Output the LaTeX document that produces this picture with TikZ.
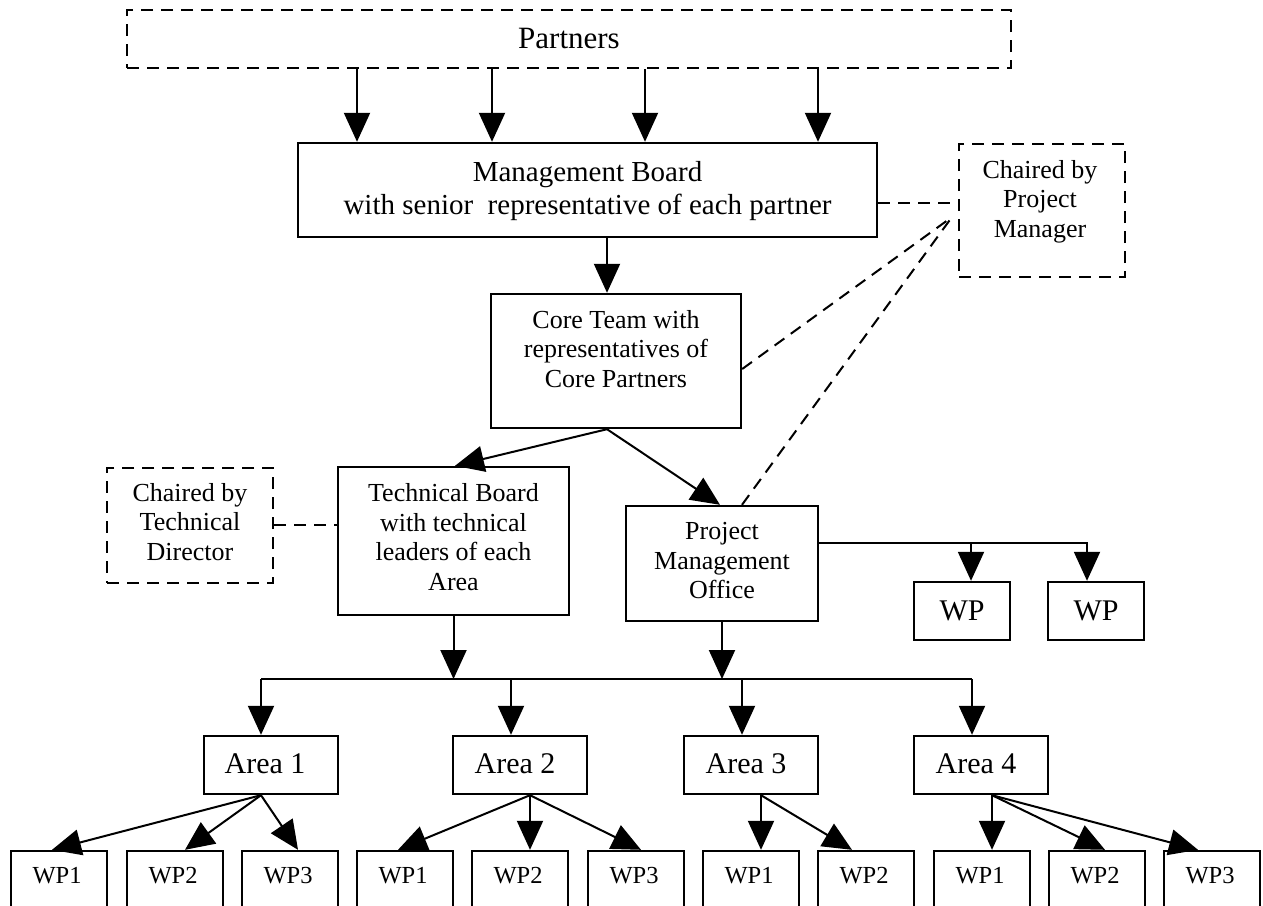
\documentclass[tikz,border=0pt]{standalone}
\usepackage{fontspec}
\setmainfont{Liberation Serif}
\usetikzlibrary{arrows.meta}
\begin{document}
\begin{tikzpicture}[x=1pt,y=-1pt,
  box/.style={draw, rectangle, line width=2.4pt, inner sep=0pt},
  dbox/.style={box, line width=2.8pt, dash pattern=on 12pt off 8pt},
  txt/.style={align=center, inner sep=0pt},
  big/.style={font=\fontsize{31}{36}\selectfont},
  mid/.style={font=\fontsize{29}{33}\selectfont},
  std/.style={font=\fontsize{26}{29.5}\selectfont},
  lab/.style={font=\fontsize{30}{34}\selectfont},
  small/.style={font=\fontsize{24.5}{28}\selectfont},
  conn/.style={line width=2pt},
  arr/.style={conn, -{Triangle[length=29pt,width=26pt]}},
  link/.style={line width=2pt, dash pattern=on 12pt off 8pt}
]
\useasboundingbox (0,0) rectangle (1263,905);
\clip (0,0) rectangle (1263,905);

% ---- boxes ----
\node[dbox, minimum width=884pt, minimum height=58pt] (partners) at (569,39) {};
\node[box, minimum width=579pt, minimum height=94pt] (mb) at (587.5,190) {};
\node[dbox, minimum width=166pt, minimum height=133pt] (pmc) at (1042,210.5) {};
\node[box, minimum width=250pt, minimum height=134pt] (core) at (616,361) {};
\node[box, minimum width=231pt, minimum height=148pt] (tb) at (453.5,541) {};
\node[dbox, minimum width=166pt, minimum height=115pt] (td) at (190,525.5) {};
\node[box, minimum width=192pt, minimum height=115pt] (pmo) at (722,563.5) {};
\node[box, minimum width=96pt, minimum height=58pt] (wpa) at (962,611) {};
\node[box, minimum width=96pt, minimum height=58pt] (wpb) at (1096,611) {};

\foreach \n/\cx in {a1/271, a2/520, a3/751, a4/981}
  \node[box, minimum width=134pt, minimum height=58pt] (\n) at (\cx,765) {};

\foreach \n/\cx in {w1/59, w2/175, w3/290, w4/405, w5/520, w6/636,
                    w7/751, w8/866, w9/982, w10/1097, w11/1212}
  \node[box, minimum width=96pt, minimum height=80pt] (\n) at (\cx,891) {};

% ---- texts ----
\node[txt, big] (partners-t) at (569,39) {Partners};
\node[txt, mid] (mb-t) at (587.5,191) {Management Board\\with senior\ \ representative of each partner};
\node[txt, std] (pmc-t) at (1040,201.5) {Chaired by\\Project\\Manager};
\node[txt, std] (core-t) at (616,349) {Core Team with\\representatives of\\Core Partners};
\node[txt, std] (tb-t) at (453.5,537) {Technical Board\\with technical\\leaders of each\\Area};
\node[txt, std] (td-t) at (190,522) {Chaired by\\Technical\\Director};
\node[txt, std] (pmo-t) at (722,561) {Project\\Management\\Office};
\node[txt, lab] (wpa-t) at (962,611) {WP};
\node[txt, lab] (wpb-t) at (1096,611) {WP};
\foreach \n/\cx/\k in {a1/265/1, a2/515/2, a3/746/3, a4/976/4}
  \node[txt, lab] (\n-t) at (\cx,764) {Area \k};
\foreach \n/\cx/\k in {w1/57/1, w2/173/2, w3/288/3, w4/403/1, w5/518/2, w6/634/3,
                       w7/749/1, w8/864/2, w9/980/1, w10/1095/2, w11/1210/3}
  \node[txt, small] (\n-t) at (\cx,876) {WP\k};

% ---- partners to management board ----
\foreach \x in {357, 492, 645, 818}
  \draw[arr] (\x,0 |- partners.south) -- (\x,0 |- mb.north);

% ---- main chain ----
\draw[arr] (607,0 |- mb.south) -- (607,0 |- core.north);
\draw[arr] (607,0 |- core.south) -- (455,0 |- tb.north);
\draw[arr] (607,0 |- core.south) -- (720,0 |- pmo.north);

% ---- chair links ----
\coordinate (pmA) at (952,203);
\coordinate (pmB) at (952,217);
\draw[link] (mb.east |- pmA) -- (pmA);
\draw[link] (core.east |- 0,369) -- (pmB);
\draw[link] (742,0 |- pmo.north) -- (pmB);
\draw[link] (td.east |- 0,525) -- (tb.west |- 0,525);

% ---- project management office work packages ----
\coordinate (j1) at (971,543);
\draw[arr] (pmo.east |- j1) -| (1087,0 |- wpb.north);
\draw[arr] (j1) -- (j1 |- wpa.north);

% ---- bus to the areas ----
\coordinate (busL) at (261,679);
\coordinate (busR) at (972,679);
\draw[arr] (tb.south) -- (tb.south |- busL);
\draw[arr] (pmo.south) -- (pmo.south |- busL);
\draw[conn] (busL) -- (busR);
\draw[arr] (busL) -- (busL |- a1.north);
\draw[arr] (511,0 |- busL) -- (511,0 |- a2.north);
\draw[arr] (742,0 |- busL) -- (742,0 |- a3.north);
\draw[arr] (busR) -- (busR |- a4.north);

% ---- areas to work packages ----
\foreach \t/\x in {w1/52, w2/185, w3/298}
  \draw[arr] (261,0 |- a1.south) -- (\x,0 |- \t.north);
\foreach \t/\x in {w4/398, w5/530, w6/641}
  \draw[arr] (530,0 |- a2.south) -- (\x,0 |- \t.north);
\foreach \t/\x in {w7/761, w8/852}
  \draw[arr] (761,0 |- a3.south) -- (\x,0 |- \t.north);
\foreach \t/\x in {w9/992, w10/1105, w11/1198}
  \draw[arr] (992,0 |- a4.south) -- (\x,0 |- \t.north);
\end{tikzpicture}
\end{document}
